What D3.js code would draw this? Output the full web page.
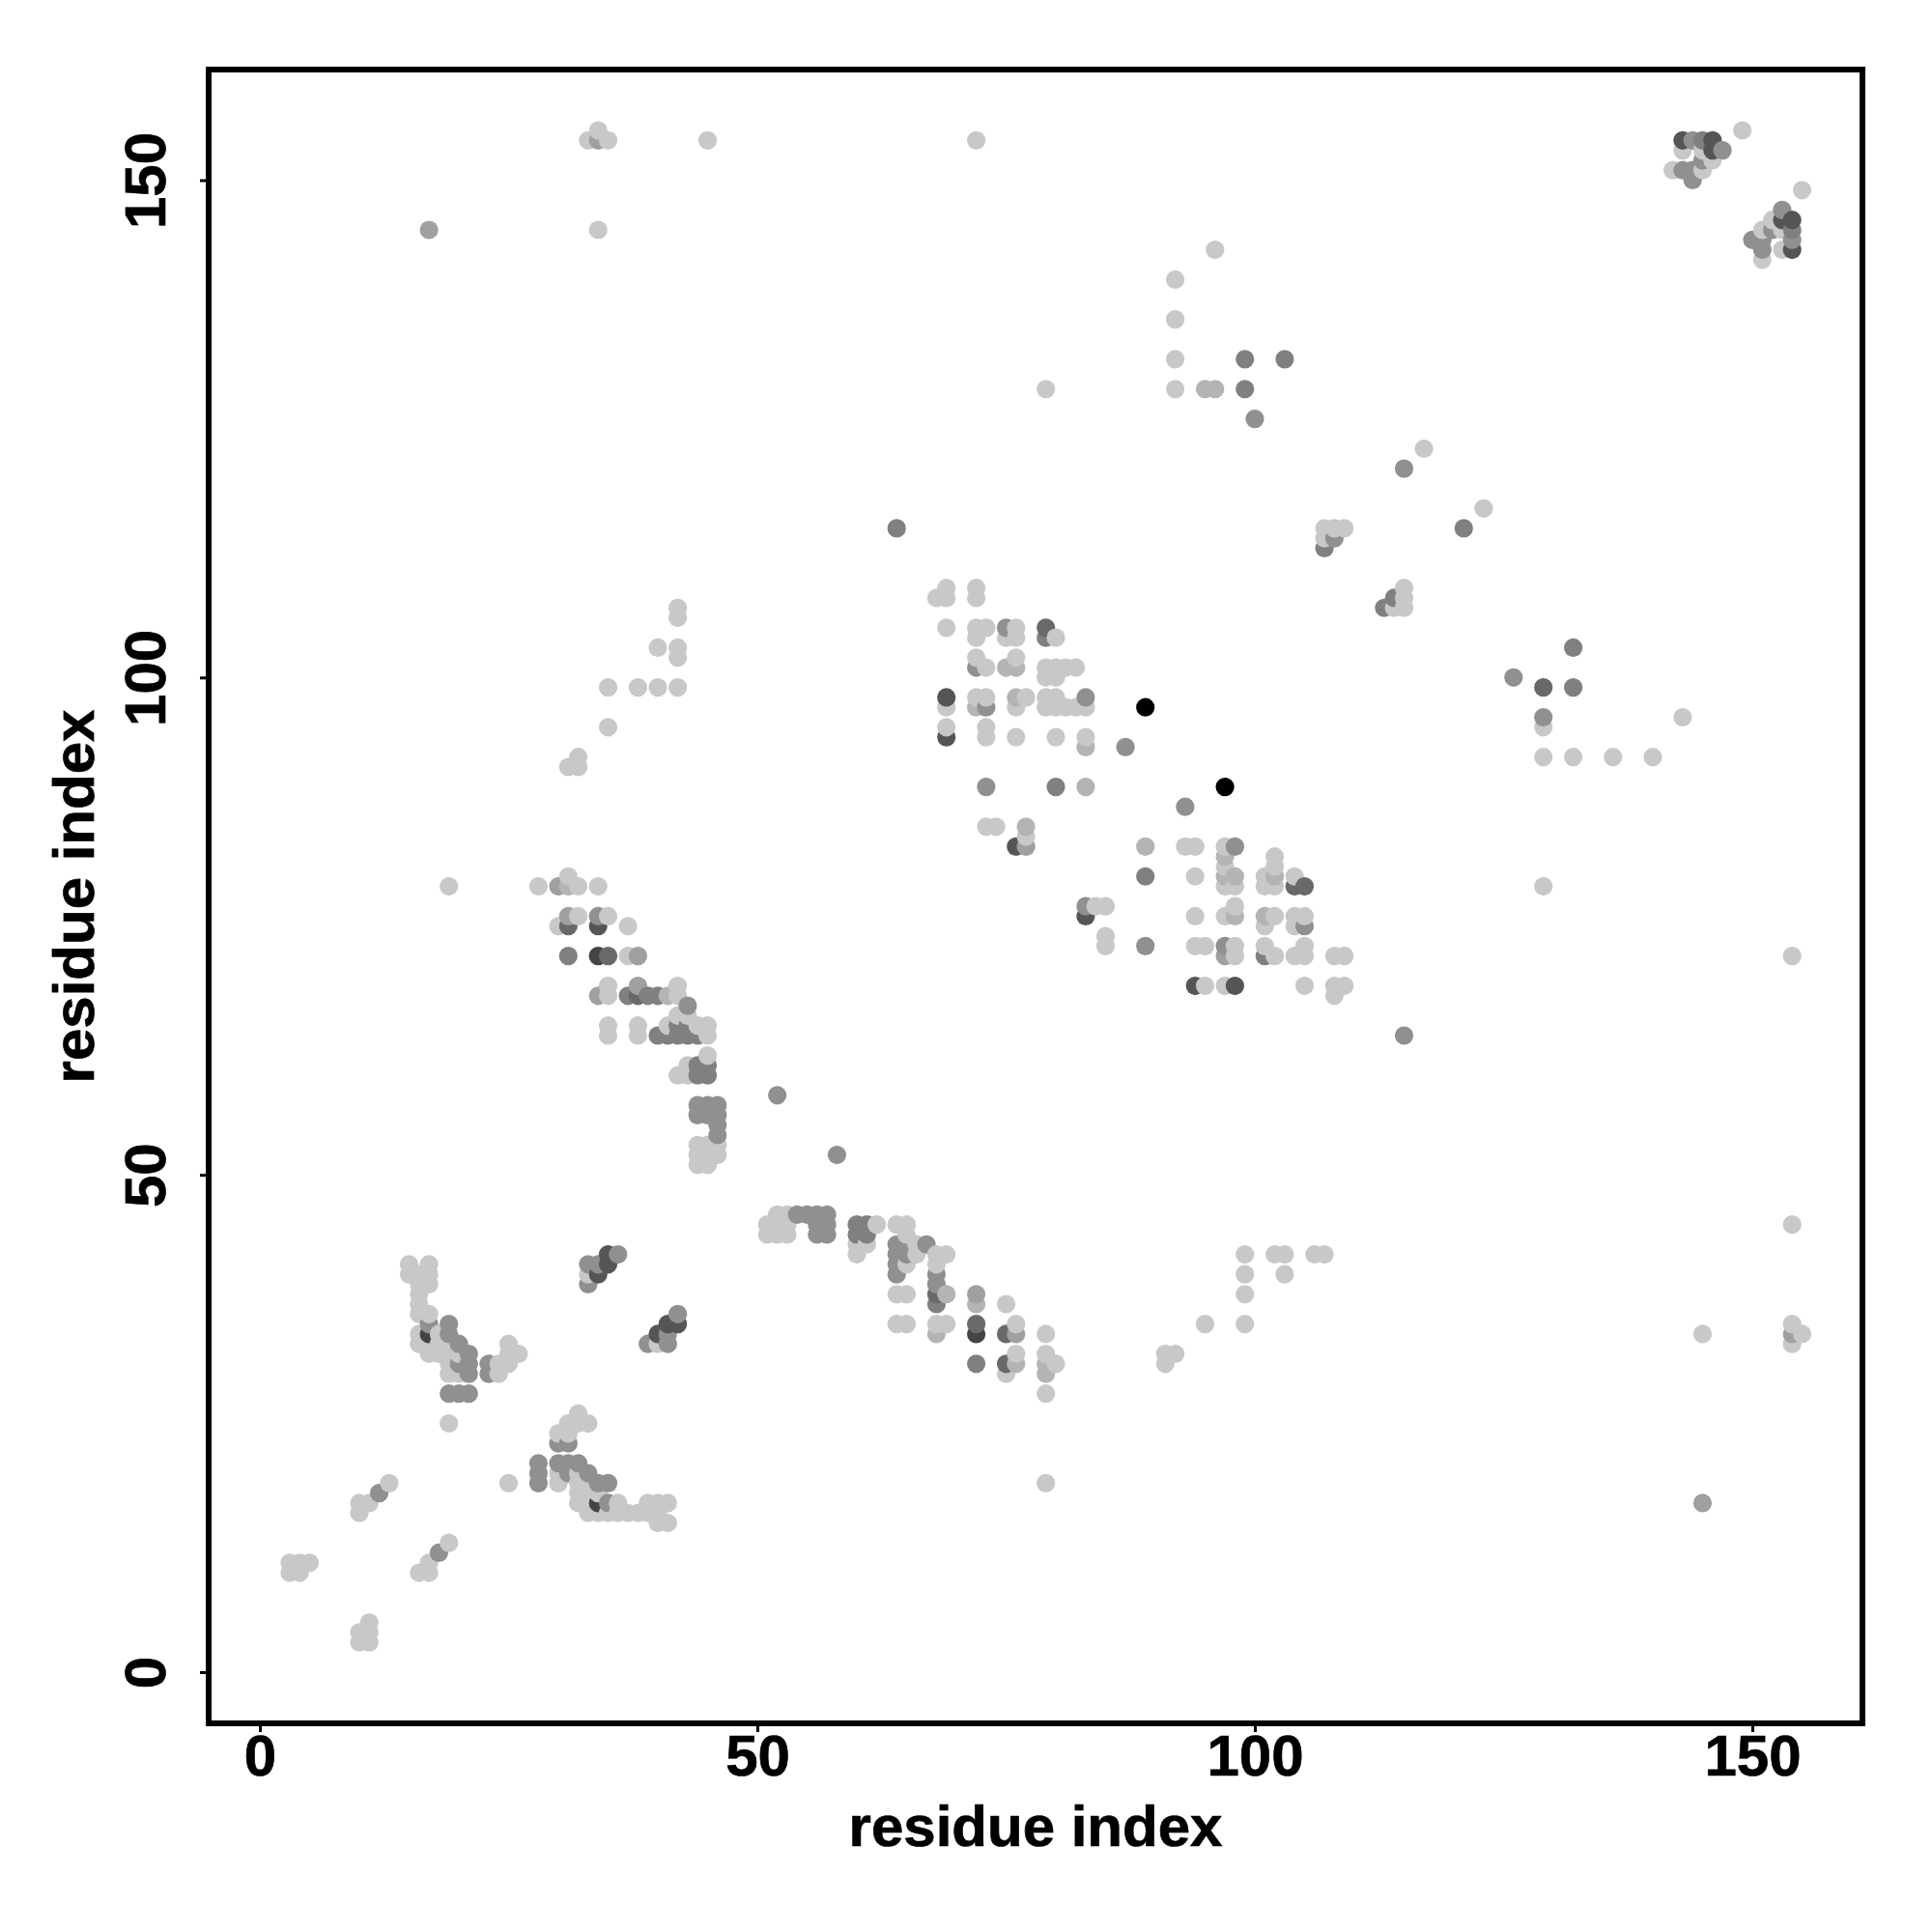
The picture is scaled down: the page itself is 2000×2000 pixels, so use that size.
<!DOCTYPE html>
<html><head><meta charset="utf-8">
<script src="https://cdn.jsdelivr.net/npm/d3@7"></script>
<style>html,body{margin:0;padding:0;background:#fff}svg{display:block}</style>
</head><body><div id="chart"></div>
<script>
// contact pairs [residue x, residue y] grouped by grey level
const grey200=[[3,10],[4,10],[3,11],[4,11],[5,11],[10,3],[11,3],[10,4],[11,4],[11,5],[10,16],[10,17],[11,17],[13,19],[16,10],[17,10],[17,11],[19,13],[19,25],
[15,41],[17,41],[15,40],[16,40],[17,40],[16,39],[17,39],[16,38],[16,37],[16,36],[17,36],[16,34],[16,33],[17,33],[17,32],[18,34],[18,33],[18,32],[19,33],[19,32],[19,31],[19,30],[20,30],[20,32],[24,30],[24,31],[25,31],[25,32],[25,33],[26,32],
[25,19],[30,19],[30,20],[32,20],[32,19],[32,18],[33,19],[33,18],[34,18],[33,17],[32,17],[33,16],[34,16],[35,16],[36,17],[36,16],[37,16],[38,16],[39,16],[39,17],[40,17],[41,17],[40,16],[40,15],[41,15],[30,24],[31,24],[31,25],[32,25],[33,25],[32,26],[33,40],[40,33],
[28,79],[32,79],[34,79],[31,80],[32,76],[35,76],[30,75],[37,75],[37,72],[35,69],[42,69],[35,68],[42,68],[42,66],[43,66],[35,65],[38,65],[41,65],[44,65],[45,65],[35,64],[38,64],[45,64],[45,62],[43,61],[42,60],[43,60],[44,53],[45,53],[46,53],[44,52],[45,52],[46,52],[44,51],[45,51],
[52,46],[53,46],[51,45],[52,45],[53,45],[62,45],[64,45],[65,45],[51,44],[52,44],[53,44],[65,44],[60,43],[61,43],[66,43],[60,42],[66,42],[68,42],[69,42],[65,41],[68,41],[64,38],[65,38],[75,37],[64,35],[65,35],[68,35],[69,35],[76,35],[79,34],[76,32],[79,32],[80,31],[75,30],[79,28],[79,19],
[99,42],[99,40],[99,38],[99,35],[95,35],[102,42],[103,42],[103,40],[106,42],[107,42],[91,31],[91,32],[92,32],[145,34],[154,45],[154,35],[154,33],[155,34],[154,72],
[69,109],[72,109],[68,108],[69,108],[72,108],[69,105],[72,105],[73,105],[76,105],[72,104],[75,104],[76,104],[80,104],[72,102],[76,102],[73,101],[79,101],[80,101],[81,101],[82,101],[79,100],[80,100],[72,98],[73,98],[77,98],[79,98],[80,98],[69,97],[76,97],[79,97],[80,97],[81,97],[82,97],[83,97],[69,95],[73,95],[73,94],[76,94],[80,94],[83,94],[73,85],[74,85],[77,84],[93,83],[94,83],
[97,83],[102,82],[97,81],[102,81],[94,80],[101,80],[104,80],[97,79],[98,79],[101,79],[102,79],[98,77],[94,76],[97,76],[102,76],[104,76],[105,76],[101,75],[104,75],[94,73],[95,73],[98,73],[101,73],[105,73],[98,72],[102,72],[104,72],[105,72],[108,72],[109,72],[95,69],[97,69],[105,69],[108,69],[109,69],[108,68],
[84,77],[85,77],[85,74],[85,73],[143,153],[149,155],[145,153],[146,152],[142,151],[145,151],[155,149],[152,146],[151,145],[153,145],[153,143],[151,142],
[34,145],[33,154],[34,155],[35,154],[45,154],[72,154],[92,140],[92,136],[92,132],[92,129],[96,143],[79,129],[117,123],[123,117],[107,115],[108,115],[109,115],[107,114],[115,109],[115,108],[115,107],[114,107],
[129,95],[129,92],[132,92],[136,92],[140,92],[143,96],[129,79],[42,107],[42,106],[40,103],[42,103],[42,102],[35,99],[38,99],[40,99],[42,99],[35,95],[32,92],[31,91],[32,91],[19,79]];
const grey180=[[41,68],[31,79],[69,38],[72,37],[72,97],[76,98],[76,101],[75,101],[83,93],[83,89],[77,85],[89,83],[97,82],[97,80],[98,80],[102,80],[98,76],[101,76],[68,34],[79,31],[79,30],[76,31],[95,129],[96,129]];
const grey160=[[30,79],[31,76],[34,68],[38,69],[38,72],[72,38],[76,34],[77,83],[97,72],[17,145],[145,17],[34,154],[154,34]];
const grey144=[[12,18],[18,12],[17,35],[19,35],[19,34],[20,33],[21,32],[21,31],[21,30],[20,31],[19,28],[20,28],[21,28],[23,30],[23,31],
[28,19],[28,20],[28,21],[30,21],[31,21],[32,21],[31,20],[33,20],[34,19],[35,19],[30,23],[31,23],[35,17],[33,39],[33,41],[34,41],[36,42],[39,33],[41,33],[41,34],[42,36],
[34,76],[43,67],[52,58],[58,52],[44,57],[45,57],[46,57],[44,56],[45,56],[46,56],[46,55],[46,54],[54,46],[55,46],[56,46],[57,46],[56,45],[57,45],[56,44],[57,44],[67,43],[65,43],[65,42],[68,40],[68,39],[64,40],[64,41],[64,42],[64,43],
[75,105],[72,101],[83,98],[73,97],[87,93],[73,89],[93,87],[98,83],[105,75],[97,73],[89,73],[115,64],[83,77],[144,154],[147,153],[145,152],[143,151],[144,151],[144,150],[153,147],[152,145],[154,144],[150,144],[151,144],[151,143],[100,126],[115,121],[108,114],[126,100],[129,96]];
const grey128=[[31,72],[37,68],[39,68],[40,68],[40,64],[41,64],[42,64],[43,64],[42,65],[43,65],[44,64],[44,61],[45,61],[44,60],[45,60],[60,45],[61,45],[60,44],[61,44],[68,37],[72,31],[79,104],[80,89],[89,80],[101,72],[145,154],[154,145],[99,132],[103,132],[99,129],[121,115],[64,115],[107,113],[114,108],[113,107],[132,103],[132,99]];
const grey105=[[31,75],[35,72],[38,68],[68,38],[72,35],[75,34],[75,31],[79,105],[104,79],[105,79],[129,99]];
const grey85=[[34,75],[34,40],[35,41],[35,42],[40,34],[41,35],[42,35],[69,98],[69,94],[76,83],[83,76],[94,69],[98,69],[143,154],[146,154],[146,153],[153,146],[154,146],[154,143]];
const grey68=[[17,34],[34,17],[34,72],[72,34]];
const grey0=[[89,97],[97,89]];
const levels=[[grey200,200],[grey180,180],[grey160,160],[grey144,144],[grey128,128],[grey105,105],[grey85,85],[grey68,68],[grey0,0]];
const tickValues=[0,50,100,150];
const axisTitle="residue index";

const width=2000,height=2000;
const box={left:216,right:1928,top:72,bottom:1784};
const x=d3.scaleLinear().domain([0,150]).range([269,1814]);
const y=d3.scaleLinear().domain([0,150]).range([1731,186.5]);
const svg=d3.select("#chart").append("svg").attr("width",width).attr("height",height).style("font-family","'Liberation Sans',Arial,sans-serif");
svg.append("rect").attr("width",width).attr("height",height).attr("fill","#fff");

const pts=levels.flatMap(([arr,g])=>arr.map(([a,b])=>({a,b,g})));
pts.sort((p,q)=>d3.ascending(p.a,q.a)||d3.ascending(p.b,q.b));
svg.append("g").selectAll("circle").data(pts).join("circle")
  .attr("cx",d=>x(d.a)).attr("cy",d=>y(d.b)).attr("r",9.6)
  .attr("fill",d=>d3.rgb(d.g,d.g,d.g).formatHex());

svg.append("rect").attr("x",box.left).attr("y",box.top)
  .attr("width",box.right-box.left).attr("height",box.bottom-box.top)
  .attr("fill","none").attr("stroke","#000").attr("stroke-width",6);

const fmt=d3.format("d");
const gx=svg.append("g").attr("transform",`translate(0,${box.bottom})`)
  .call(d3.axisBottom(x).tickValues(tickValues).tickFormat(fmt).tickSize(9).tickPadding(12));
gx.select(".domain").remove();
gx.selectAll("line").attr("stroke","#000").attr("stroke-width",3);
gx.selectAll("text").attr("font-size",60).attr("font-weight","bold").attr("fill","#000").attr("dy",null)
  .attr("y",54).attr("text-anchor","middle").attr("stroke","#000").attr("stroke-width",0.7);

const gy=svg.append("g").attr("transform",`translate(${box.left},0)`)
  .call(d3.axisLeft(y).tickValues(tickValues).tickFormat(fmt).tickSize(9).tickPadding(12));
gy.select(".domain").remove();
gy.selectAll("line").attr("stroke","#000").attr("stroke-width",3);
gy.selectAll("text").attr("font-size",60).attr("font-weight","bold").attr("fill","#000").attr("stroke","#000").attr("stroke-width",0.7)
  .attr("dy",null).attr("x",null).attr("text-anchor","middle").attr("transform","translate(-45,0) rotate(-90)");

svg.append("text").attr("x",1072).attr("y",1911).attr("text-anchor","middle")
  .attr("font-size",60).attr("font-weight","bold").attr("stroke","#000").attr("stroke-width",0.7).text(axisTitle);
svg.append("text").attr("transform","translate(97,928) rotate(-90)").attr("text-anchor","middle")
  .attr("font-size",60).attr("font-weight","bold").attr("stroke","#000").attr("stroke-width",0.7).text(axisTitle);
</script></body></html>
